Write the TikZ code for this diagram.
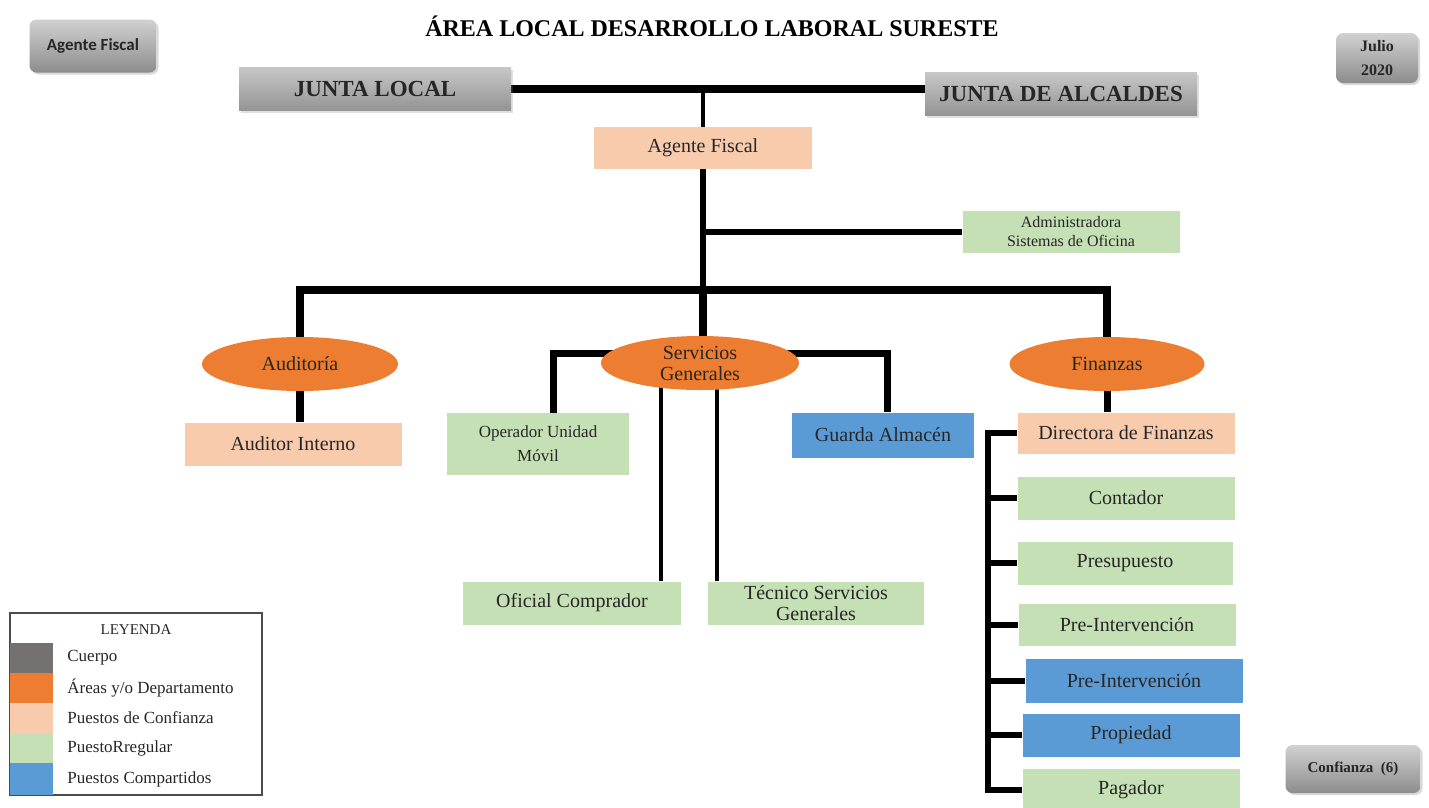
\documentclass[tikz,border=0pt]{standalone}
\usepackage{fontspec}
\setmainfont{Liberation Serif}
\newfontfamily\botonfont{Carlito}
\usetikzlibrary{shapes.geometric,backgrounds,shadows,positioning}

\definecolor{naranja}{HTML}{ED7D31}
\definecolor{salmon}{HTML}{F8CBAD}
\definecolor{verdeclaro}{HTML}{C5E0B4}
\definecolor{azul}{HTML}{5B9BD5}
\definecolor{grisoscuro}{HTML}{767171}
\definecolor{tinta}{HTML}{262626}
\newcommand{\letra}[2]{\fontsize{#1}{#2}\selectfont}

\tikzstyle{puesto} = [rectangle, inner sep=0pt, minimum width=217pt, minimum height=43pt, align=center, text=tinta, font={\letra{20}{21}}]
\tikzstyle{confianza} = [puesto, fill=salmon]
\tikzstyle{puestoregular} = [puesto, fill=verdeclaro]
\tikzstyle{compartido} = [puesto, fill=azul]
\tikzstyle{area} = [ellipse, fill=naranja, inner sep=0pt, minimum width=196pt, minimum height=54pt, align=center, text=tinta, font={\letra{20}{21}}]
\tikzstyle{cuerpo} = [rectangle, top color=black!22, bottom color=black!42, minimum width=272pt, minimum height=43pt, text=tinta, font={\bfseries\letra{23}{25}}, drop shadow={shadow xshift=2pt, shadow yshift=-2pt, opacity=0.25}]
\tikzstyle{boton} = [rectangle, rounded corners=7pt, top color=black!18, bottom color=black!45, align=center, inner sep=0pt, text=tinta, drop shadow={shadow xshift=2pt, shadow yshift=-2pt, opacity=0.3}]
\tikzstyle{linea} = [line width=7pt]
\tikzstyle{lineafina} = [line width=3.5pt]
\tikzstyle{muestra} = [rectangle, inner sep=0pt, minimum width=43pt, minimum height=30pt]
\tikzstyle{etiqueta} = [inner sep=0pt, text=tinta, font={\letra{17}{19}}]

\begin{document}
\begin{tikzpicture}[x=1pt, y=-1pt]
		\useasboundingbox (0,0) rectangle (1429,807);

		\node[font={\bfseries\letra{24}{26}}] (titulo) at (712,26) {ÁREA LOCAL DESARROLLO LABORAL SURESTE};

		% botones grises
		\node[boton, minimum width=127pt, minimum height=53pt, font={\botonfont\bfseries\letra{17}{19}}] (btnfiscal) at (93,46) {Agente Fiscal};
		\node[boton, minimum width=82pt, minimum height=50pt, font={\bfseries\letra{16}{24}}] (btnjulio) at (1377,58) {Julio\\2020};
		\node[boton, minimum width=135pt, minimum height=48pt, font={\bfseries\letra{15}{17}}] (btnconfianza) at (1353,769) {Confianza~~(6)};

		% cuerpos
		\node[cuerpo] (jlocal) at (375,89) {JUNTA LOCAL};
		\node[cuerpo] (jalcaldes) at (1061,94) {JUNTA DE ALCALDES};

		\node[confianza, minimum width=218pt, minimum height=42pt] (agente) at (703,148) {Agente Fiscal};
		\node[puestoregular, minimum height=42pt, font={\letra{16}{19}}] (admin) at (1071,232) {Administradora\\Sistemas de Oficina};

		% areas
		\node[area] (auditoria) at (300,364) {Auditoría};
		\node[area, minimum width=198pt] (servicios) at (700,363) {Servicios\\Generales};
		\node[area, minimum width=195pt] (finanzas) at (1107,364) {Finanzas};

		\node[confianza] (auditor) at (293,444) {Auditor Interno};
		\node[puestoregular, minimum width=182pt, minimum height=62pt, font={\letra{17}{24}}] (operador) at (538,444) {Operador Unidad\\Móvil};
		\node[compartido, minimum width=182pt, minimum height=45pt] (guarda) at (883,435) {Guarda Almacén};
		\node[puestoregular, minimum width=218pt] (oficial) at (572,603) {Oficial Comprador};
		\node[puestoregular, minimum width=216pt] (tecnico) at (816,603) {Técnico Servicios\\Generales};

		% finanzas
		\node[confianza, minimum height=41pt] (directora) at (1126,433) {Directora de Finanzas};
		\node[puestoregular] (contador) at (1126,498) {Contador};
		\node[puestoregular, minimum width=215pt] (presupuesto) at (1125,563) {Presupuesto};
		\node[puestoregular, minimum height=42pt] (preintervencion) at (1127,625) {Pre-Intervención};
		\node[compartido, minimum height=44pt] (preintcompartido) at (1134,681) {Pre-Intervención};
		\node[compartido] (propiedad) at (1131,735) {Propiedad};
		\node[puestoregular, minimum height=42pt] (pagador) at (1131,790) {Pagador};

		\coordinate (barra) at (703,290);
		\coordinate (espina) at (988,0);

		\begin{scope}[on background layer]
			\draw[linea, line width=8pt] (jlocal.east) -- (jlocal.east -| jalcaldes.west);
			\draw[lineafina] (jlocal.east -| agente.north) -- (agente.north);
			\draw[linea, line width=6pt] (agente.south) -- (barra);
			\draw[linea, line width=6pt] (agente.south |- admin.west) -- (admin.west);
			\draw[linea, line width=8pt] (auditoria.center) |- (barra) -| (finanzas.center);
			\draw[linea, line width=8pt] (barra) -- (barra |- servicios.center);
			\draw[linea, line width=8pt] (auditoria.center) -- (auditoria.center |- auditor.north);
			\draw[linea] ([yshift=10pt]servicios.center) -| ([xshift=15pt]operador.north);
			\draw[linea] ([yshift=10pt]servicios.center) -| ([xshift=4pt]guarda.north);
			\draw[lineafina] ([xshift=-39pt]servicios.center) -- ([xshift=-39pt]servicios.center |- oficial.north);
			\draw[lineafina] ([xshift=17pt]servicios.center) -- ([xshift=17pt]servicios.center |- tecnico.north);
			\draw[linea] (finanzas.center) -- (finanzas.center |- directora.north);
			\draw[linea, line width=6pt, line cap=rect] (directora.west -| espina) -- (pagador.west -| espina);
			\draw[linea, line width=6pt] (directora.west -| espina) -- (directora.west);
			\draw[linea, line width=6pt] (contador.west -| espina) -- (contador.west);
			\draw[linea, line width=6pt] (presupuesto.west -| espina) -- (presupuesto.west);
			\draw[linea, line width=6pt] (preintervencion.west -| espina) -- (preintervencion.west);
			\draw[linea, line width=6pt] (preintcompartido.west -| espina) -- (preintcompartido.west);
			\draw[linea, line width=6pt] (propiedad.west -| espina) -- (propiedad.west);
			\draw[linea, line width=6pt] (pagador.west -| espina) -- (pagador.west);
		\end{scope}

		% leyenda
		\node[draw=black!70, line width=1.5pt, inner sep=0pt, minimum width=252pt, minimum height=182pt] (leyenda) at (136,704) {};
		\node[etiqueta, font={\letra{15}{17}}] (leyendatitulo) at (136,630) {LEYENDA};
		\node[muestra, fill=grisoscuro] (mcuerpo) at (31.5,658) {};
		\node[muestra, fill=naranja] (marea) at (31.5,688) {};
		\node[muestra, fill=salmon] (mconfianza) at (31.5,718) {};
		\node[muestra, fill=verdeclaro] (mregular) at (31.5,748) {};
		\node[muestra, fill=azul, minimum height=32pt] (mcompartido) at (31.5,779) {};
		\node[etiqueta, right=14pt of mcuerpo] (lcuerpo) {Cuerpo};
		\node[etiqueta, right=14pt of marea] (larea) {Áreas y/o Departamento};
		\node[etiqueta, right=14pt of mconfianza] (lconfianza) {Puestos de Confianza};
		\node[etiqueta, right=14pt of mregular] (lregular) {PuestoRregular};
		\node[etiqueta, right=14pt of mcompartido] (lcompartido) {Puestos Compartidos};
	\end{tikzpicture}
\end{document}
